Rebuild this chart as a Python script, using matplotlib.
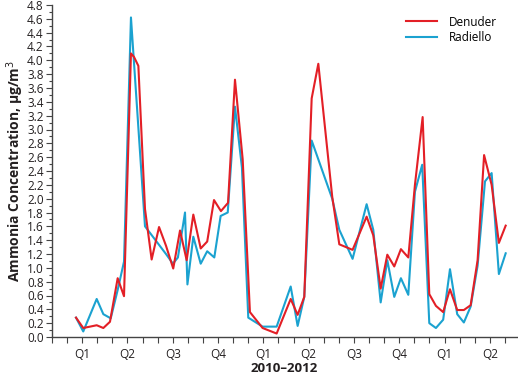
import matplotlib
matplotlib.use("Agg")
import matplotlib.pyplot as plt
from matplotlib.ticker import MultipleLocator, FixedLocator

plt.rcParams['font.family'] = ['Open Sans', 'DejaVu Sans']

# x positions in months from axis origin
denuder_x = [1.59, 2.07, 2.52, 2.96, 3.40, 3.84, 4.35, 4.77, 5.23, 5.43, 5.72, 6.16, 6.60, 7.09,
             7.55, 8.03, 8.48, 8.92, 9.36, 9.85, 10.28, 10.73, 11.19, 11.66, 12.12, 12.63, 13.11,
             13.95, 14.88, 15.81, 16.27, 16.71, 17.20, 17.64, 18.56, 19.03, 19.91, 20.84, 21.28,
             21.77, 22.21, 22.67, 23.11, 23.60, 24.04, 24.55, 24.99, 25.43, 25.91, 26.36, 26.84,
             27.28, 27.73, 28.19, 28.62, 29.12, 29.60, 30.05]
denuder_y = [0.28, 0.13, 0.15, 0.17, 0.13, 0.22, 0.85, 0.59, 4.10, 4.05, 3.92, 1.85, 1.12, 1.59,
             1.32, 0.99, 1.54, 1.11, 1.77, 1.28, 1.38, 1.98, 1.82, 1.94, 3.72, 2.57, 0.36,
             0.13, 0.05, 0.55, 0.32, 0.58, 3.45, 3.95, 2.03, 1.34, 1.26, 1.74, 1.47,
             0.70, 1.19, 1.02, 1.27, 1.15, 2.20, 3.18, 0.62, 0.45, 0.36, 0.69, 0.39,
             0.39, 0.46, 1.11, 2.63, 2.20, 1.36, 1.61]

radiello_x = [1.59, 2.07, 2.96, 3.40, 3.89, 4.35, 4.77, 5.23, 6.16, 7.55, 8.01, 8.34, 8.81, 8.97,
              9.36, 9.85, 10.28, 10.75, 11.17, 11.64, 12.12, 12.58, 13.00, 13.95, 14.88, 15.81,
              16.27, 16.71, 17.20, 18.56, 19.03, 19.91, 20.84, 21.28, 21.77, 22.21, 22.67, 23.11,
              23.60, 24.04, 24.52, 24.99, 25.43, 25.91, 26.36, 26.84, 27.28, 27.73, 28.19, 28.68,
              29.12, 29.60, 30.05]
radiello_y = [0.28, 0.08, 0.55, 0.33, 0.27, 0.68, 1.09, 4.62, 1.60, 1.20, 1.06, 1.15, 1.80, 0.76,
              1.45, 1.06, 1.24, 1.15, 1.75, 1.80, 3.33, 2.45, 0.28, 0.15, 0.15, 0.73,
              0.16, 0.58, 2.84, 2.00, 1.55, 1.13, 1.92, 1.55, 0.50, 1.11, 0.58, 0.85,
              0.61, 2.10, 2.49, 0.20, 0.13, 0.25, 0.98, 0.33, 0.21, 0.44, 1.03, 2.25,
              2.37, 0.91, 1.21]

quarter_pos = [2, 5, 8, 11, 14, 17, 20, 23, 26, 29]
quarter_labels = ['Q1', 'Q2', 'Q3', 'Q4', 'Q1', 'Q2', 'Q3', 'Q4', 'Q1', 'Q2']

fig = plt.figure(figsize=(5.18, 3.77), dpi=100)
ax = fig.add_axes([52/518, 40/377, 465/518, 332/377])

ax.plot(denuder_x, denuder_y, color='#e31f26', lw=1.5, label='Denuder', zorder=3)
ax.plot(radiello_x, radiello_y, color='#1ba2d0', lw=1.5, label='Radiello', zorder=2)

ax.set_xlim(0, 30.8)
ax.set_ylim(0, 4.8)
ax.yaxis.set_major_locator(MultipleLocator(0.2))
ax.yaxis.set_minor_locator(MultipleLocator(0.1))
ax.set_yticklabels([f'{v:.1f}' for v in ax.get_yticks()])
ax.xaxis.set_major_locator(FixedLocator(quarter_pos))
ax.set_xticklabels(quarter_labels)
ax.xaxis.set_minor_locator(MultipleLocator(1))

for s in ['top', 'right']:
    ax.spines[s].set_visible(False)
for s in ['left', 'bottom']:
    ax.spines[s].set_color('#444444')
    ax.spines[s].set_linewidth(1.0)

ax.tick_params(axis='both', which='both', direction='out', color='#444444', width=0.8,
               labelsize=8.5, labelcolor='#231f20')
ax.tick_params(axis='y', which='major', length=4, pad=2)
ax.tick_params(axis='y', which='minor', length=2.5)
ax.tick_params(axis='x', which='major', length=4, pad=4)
ax.tick_params(axis='x', which='minor', length=4)

ax.set_ylabel('Ammonia Concentration, µg/m$^3$', fontsize=10, fontweight='bold', color='#231f20', labelpad=1)
ax.set_xlabel('2010–2012', fontsize=9.5, fontweight='bold', color='#231f20', labelpad=1)

leg = ax.legend(loc='upper right', bbox_to_anchor=(0.98, 1.0), frameon=False, fontsize=8.5,
                handlelength=2.6, handletextpad=1.0, labelspacing=0.2)

fig.savefig('out.png', dpi=100)
